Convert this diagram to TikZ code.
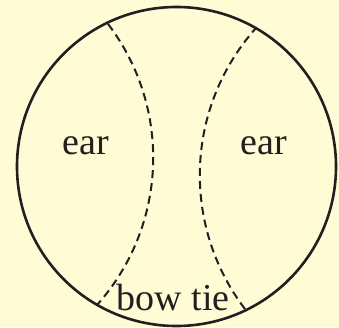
\documentclass[tikz,border=0pt]{standalone}
\usepackage{fontspec}
\setmainfont{Liberation Serif}
\usepackage{tikz}
\usetikzlibrary{positioning,calc}
\definecolor{paper}{RGB}{255,251,213}
\definecolor{ink}{RGB}{35,31,32}

\begin{document}
\begin{tikzpicture}[
    x=1pt, y=1pt,
    rim/.style={draw=ink, line width=2.6pt},
    seam/.style={draw=ink, line width=2pt, dash pattern=on 8pt off 5pt},
    lbl/.style={anchor=base, text=ink, inner sep=0pt, font=\fontsize{38}{40}\selectfont}
]
    \fill[paper] (0,0) rectangle (339,327);
    \useasboundingbox (0,0) rectangle (339,327);

    % head
    \coordinate (head) at (176.5,160.5);
    \draw[rim] (head) circle[radius=159.5];

    % dashed seams
    \coordinate (lc) at (-67.6,169.2);
    \coordinate (rc) at (420.6,151.8);
    \draw[seam] ([shift={(37.3:220.8)}]lc) arc[start angle=37.3, end angle=-41.8, radius=220.8];
    \draw[seam] ([shift={(217.3:220.8)}]rc) arc[start angle=217.3, end angle=138.2, radius=220.8];

    \node[lbl] (earL) at (86,173) {ear};
    \node[lbl] (earR) at (264,173) {ear};
    \node[lbl] (tie) at (173,17) {bow tie};
\end{tikzpicture}
\end{document}
